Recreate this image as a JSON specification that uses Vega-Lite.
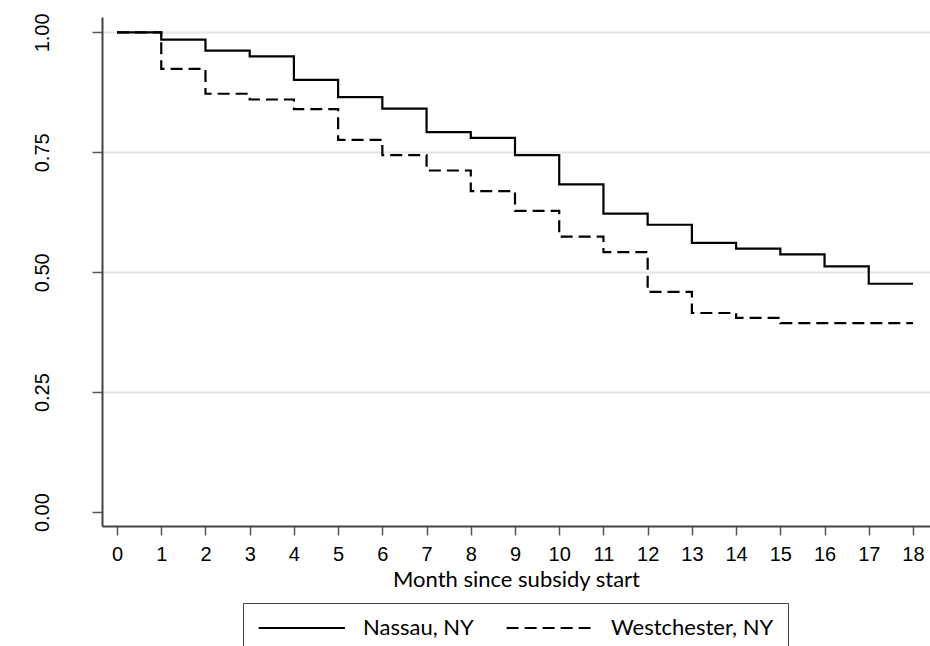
{
  "$schema": "https://vega.github.io/schema/vega-lite/v6.json",
  "width": 828,
  "height": 509,
  "autosize": "none",
  "padding": {"left": 102, "top": 17, "right": 0, "bottom": 120},
  "background": "white",
  "config": {"view": {"stroke": null}},
  "data": {"values": [
    {"county": "Nassau, NY", "month": 0, "surv": 1.0},
    {"county": "Nassau, NY", "month": 1, "surv": 0.985},
    {"county": "Nassau, NY", "month": 2, "surv": 0.962},
    {"county": "Nassau, NY", "month": 3, "surv": 0.950},
    {"county": "Nassau, NY", "month": 4, "surv": 0.901},
    {"county": "Nassau, NY", "month": 5, "surv": 0.865},
    {"county": "Nassau, NY", "month": 6, "surv": 0.841},
    {"county": "Nassau, NY", "month": 7, "surv": 0.792},
    {"county": "Nassau, NY", "month": 8, "surv": 0.780},
    {"county": "Nassau, NY", "month": 9, "surv": 0.744},
    {"county": "Nassau, NY", "month": 10, "surv": 0.683},
    {"county": "Nassau, NY", "month": 11, "surv": 0.622},
    {"county": "Nassau, NY", "month": 12, "surv": 0.599},
    {"county": "Nassau, NY", "month": 13, "surv": 0.561},
    {"county": "Nassau, NY", "month": 14, "surv": 0.549},
    {"county": "Nassau, NY", "month": 15, "surv": 0.537},
    {"county": "Nassau, NY", "month": 16, "surv": 0.512},
    {"county": "Nassau, NY", "month": 17, "surv": 0.476},
    {"county": "Nassau, NY", "month": 18, "surv": 0.476},
    {"county": "Westchester, NY", "month": 0, "surv": 1.0},
    {"county": "Westchester, NY", "month": 1, "surv": 0.924},
    {"county": "Westchester, NY", "month": 2, "surv": 0.872},
    {"county": "Westchester, NY", "month": 3, "surv": 0.860},
    {"county": "Westchester, NY", "month": 4, "surv": 0.840},
    {"county": "Westchester, NY", "month": 5, "surv": 0.776},
    {"county": "Westchester, NY", "month": 6, "surv": 0.744},
    {"county": "Westchester, NY", "month": 7, "surv": 0.712},
    {"county": "Westchester, NY", "month": 8, "surv": 0.669},
    {"county": "Westchester, NY", "month": 9, "surv": 0.628},
    {"county": "Westchester, NY", "month": 10, "surv": 0.574},
    {"county": "Westchester, NY", "month": 11, "surv": 0.542},
    {"county": "Westchester, NY", "month": 12, "surv": 0.459},
    {"county": "Westchester, NY", "month": 13, "surv": 0.415},
    {"county": "Westchester, NY", "month": 14, "surv": 0.405},
    {"county": "Westchester, NY", "month": 15, "surv": 0.394},
    {"county": "Westchester, NY", "month": 16, "surv": 0.394},
    {"county": "Westchester, NY", "month": 17, "surv": 0.394},
    {"county": "Westchester, NY", "month": 18, "surv": 0.394}
  ]},
  "mark": {"type": "line", "interpolate": "step-after", "strokeWidth": 2.2, "color": "black"},
  "encoding": {
    "x": {
      "field": "month", "type": "quantitative",
      "scale": {"domain": [-0.34, 18.385], "nice": false, "zero": false},
      "axis": {
        "values": [0,1,2,3,4,5,6,7,8,9,10,11,12,13,14,15,16,17,18],
        "title": "Month since subsidy start",
        "titleFont": "Lato", "titleFontSize": 22, "titleFontWeight": "normal", "titleColor": "black", "titlePadding": 5,
        "labelFont": "Liberation Sans", "labelFontSize": 20, "labelColor": "black", "labelPadding": 9,
        "tickSize": 9, "tickColor": "#555", "tickWidth": 1.5,
        "domainColor": "#444", "domainWidth": 2, "grid": false
      }
    },
    "y": {
      "field": "surv", "type": "quantitative",
      "scale": {"domain": [-0.029, 1.032], "nice": false, "zero": false},
      "axis": {
        "values": [0, 0.25, 0.5, 0.75, 1],
        "format": ".2f", "title": null,
        "labelAngle": -90, "labelFont": "Liberation Sans", "labelFontSize": 20, "labelColor": "black", "labelPadding": 40,
        "tickSize": 10, "tickColor": "#555", "tickWidth": 1.5,
        "domainColor": "#444", "domainWidth": 2,
        "grid": true, "gridWidth": 2,
        "gridColor": {"condition": {"test": "datum.value === 0", "value": "transparent"}, "value": "#e6e6e6"}
      }
    },
    "strokeDash": {
      "field": "county", "type": "nominal",
      "scale": {"domain": ["Nassau, NY", "Westchester, NY"], "range": [[1, 0], [12, 6]]},
      "legend": {
        "title": null, "orient": "none", "legendX": 141, "legendY": 586, "direction": "horizontal",
        "strokeColor": "#444", "fillColor": "white", "padding": 14,
        "symbolType": "M-1,0H8.2", "symbolSize": 352, "symbolStrokeWidth": 2.2, "symbolStrokeColor": "black",
        "labelFont": "Lato", "labelFontSize": 22, "labelColor": "black", "labelOffset": 84, "labelLimit": 400, "columnPadding": 28
      }
    }
  }
}
